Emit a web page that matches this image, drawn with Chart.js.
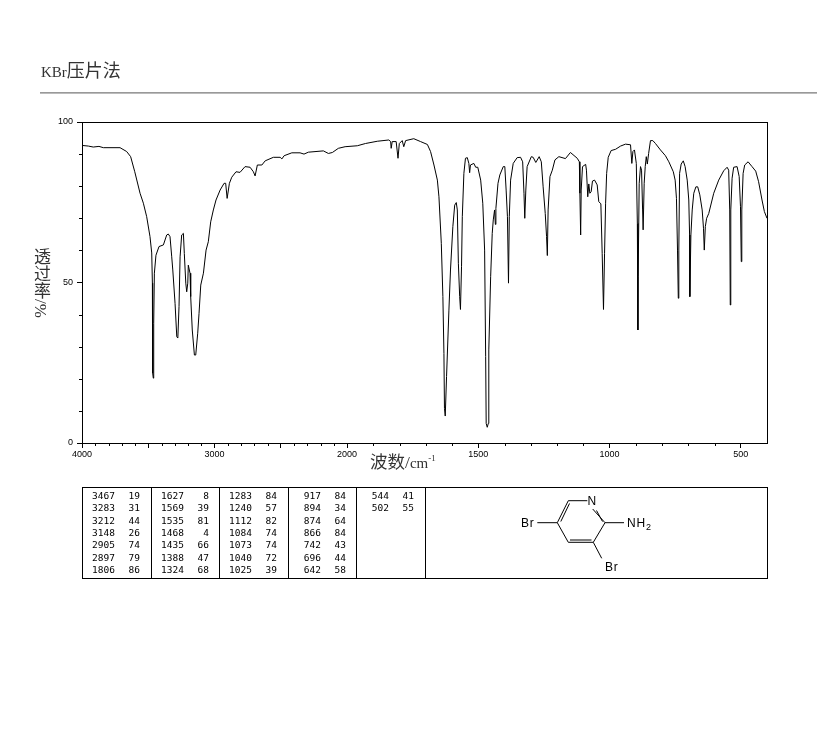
<!DOCTYPE html>
<html>
<head>
<meta charset="utf-8">
<script src="https://cdn.jsdelivr.net/npm/chart.js@4/dist/chart.umd.min.js"></script>
<style>
    html, body { margin: 0; padding: 0; background: #fff; }
    #page { position: relative; width: 822px; height: 737px; overflow: hidden; color: #000; }
    #page > * { position: absolute; }
    .cjk { font-family: "Liberation Serif", "Noto Sans CJK SC", serif; color: #333; white-space: nowrap; }
    #title { left: 41px; top: 59px; font-size: 18px; line-height: 24px; }
    #title b, #xtitle b { font-weight: normal; font-size: 15px; }
    #rule { left: 40px; top: 92px; width: 777px; height: 1px; background: #999; border-bottom: 1px solid #bbb; }
    #ytitle { left: 29px; top: 248px; font-size: 17px; line-height: 22px; writing-mode: vertical-rl; }
    #xtitle { left: 370px; top: 450px; font-size: 17.5px; line-height: 24px; }
    #xtitle sup { font-size: 9px; line-height: 0; }
    #peaks { left: 82px; top: 487px; width: 684px; height: 90px; border: 1px solid #000; }
    .col { position: absolute; top: 0; bottom: 0; border-right: 1px solid #000; }
    .num { position: absolute; font: 9.5px/12px "DejaVu Sans Mono", monospace; text-align: right; }
    svg { left: 0; top: 0; }
    svg text { font-family: "Liberation Sans", sans-serif; font-size: 12px; letter-spacing: 0.8px; }
</style>
</head>
<body>
<div id="page">
    <canvas id="chart" width="822" height="500" style="left:0;top:0;width:822px;height:500px"></canvas>
    <div id="title" class="cjk"><b>KBr</b>压片法</div>
    <div id="rule"></div>
    <div id="ytitle" class="cjk">透过率/%</div>
    <div id="xtitle" class="cjk">波数/<b>cm</b><sup>-1</sup></div>
    <div id="peaks"></div>
    <svg width="822" height="737" viewBox="0 0 822 737">
        <g stroke="#000" stroke-width="1" fill="none">
            <path d="M587.3 500.7H568.3L557.3 522.7L568.3 542.3H593.3L605 522.7L592.7 509"/>
            <path d="M569.5 503.5L560.8 521.5M570 540H591.5M596.5 510.5L602.5 521.5"/>
            <path d="M537.3 522.7H557.3M605 522.7H624M593.3 542.3L601.7 558.3"/>
        </g>
        <text x="587.5" y="505">N</text>
        <text x="521" y="527">Br</text>
        <text x="627" y="527">NH<tspan font-size="9" dy="3">2</tspan></text>
        <text x="605" y="571">Br</text>
    </svg>
</div>
<script>
var spectrumWave = [
    4000, 3952, 3915, 3872, 3839, 3713, 3663, 3633, 3602, 3562, 3537, 3512, 3487, 3474, 3469, 3467, 3462, 3459, 3454, 3442,
    3419, 3386, 3361, 3349, 3336, 3323, 3315, 3298, 3285, 3277, 3268, 3260, 3248, 3235, 3228, 3217, 3210, 3202, 3198, 3185,
    3180, 3168, 3152, 3142, 3127, 3117, 3104, 3084, 3064, 3047, 3029, 3009, 2989, 2958, 2928, 2916, 2905, 2888, 2870, 2838,
    2808, 2770, 2732, 2707, 2694, 2677, 2643, 2618, 2556, 2505, 2492, 2475, 2417, 2355, 2325, 2292, 2179, 2141, 2111, 2066,
    2015, 1961, 1930, 1885, 1841, 1834, 1832, 1828, 1813, 1806, 1801, 1790, 1784, 1777, 1746, 1720, 1694, 1682, 1669, 1656,
    1650, 1641, 1635, 1631, 1629, 1626, 1621, 1612, 1606, 1597, 1590, 1584, 1580, 1576, 1571, 1568, 1564, 1561, 1555, 1549,
    1542, 1536, 1533, 1530, 1517, 1510, 1502, 1491, 1483, 1476, 1472, 1470, 1466, 1462, 1460, 1453, 1447, 1443, 1438, 1435,
    1433, 1425, 1418, 1405, 1399, 1394, 1389, 1385, 1382, 1377, 1367, 1352, 1339, 1331, 1326, 1323, 1319, 1314, 1298, 1291,
    1281, 1268, 1260, 1253, 1245, 1240, 1237, 1234, 1227, 1218, 1208, 1193, 1168, 1149, 1123, 1115, 1113, 1110, 1108, 1103,
    1091, 1088, 1083, 1079, 1075, 1070, 1065, 1057, 1047, 1041, 1033, 1028, 1023, 1019, 1015, 1011, 1005, 994, 977, 958,
    939, 920, 915, 911, 905, 898, 894, 892, 891, 887, 882, 878, 874, 872, 868, 864, 860, 856, 851, 844,
    835, 825, 806, 787, 774, 757, 750, 745, 741, 738, 736, 733, 727, 719, 712, 704, 698, 695, 694, 690,
    685, 679, 671, 664, 656, 647, 642, 639, 635, 630, 622, 603, 584, 565, 552, 546, 542, 540, 538, 533,
    527, 514, 506, 501, 498, 496, 491, 485, 472, 457, 443, 432, 419, 410, 400
];
var spectrumT = [
    92.7, 92.5, 92.2, 92.4, 92.0, 92.0, 90.8, 89.2, 84.5, 77.8, 74.7, 70.5, 64.3, 59.2, 49.8, 21.8, 20.2, 37.3, 52.9, 58.5,
    61.2, 61.7, 64.8, 65.1, 64.3, 58.0, 53.9, 43.5, 33.1, 32.7, 42.5, 58.0, 64.8, 65.3, 59.0, 49.8, 47.1, 49.8, 55.4, 52.9,
    45.6, 35.2, 27.4, 27.4, 34.2, 40.4, 49.2, 52.9, 60.1, 62.7, 68.9, 72.6, 75.7, 78.8, 80.9, 80.9, 76.2, 80.9, 82.8, 84.5,
    84.3, 86.1, 85.9, 84.5, 83.2, 86.6, 86.6, 87.9, 89.0, 89.0, 88.5, 89.5, 90.4, 90.4, 90.0, 90.6, 91.0, 90.2, 90.5, 91.8,
    92.3, 92.6, 93.3, 94.0, 94.4, 93.9, 91.8, 93.9, 93.9, 88.7, 93.3, 94.2, 92.3, 94.2, 94.8, 93.9, 93.0, 90.8, 86.6, 81.9,
    76.7, 62.2, 45.6, 27.9, 10.8, 8.4, 20.7, 41.4, 53.9, 67.4, 74.1, 74.9, 72.6, 56.0, 45.6, 41.6, 54.9, 70.5, 84.0, 88.7,
    88.9, 87.1, 84.2, 86.6, 87.1, 85.9, 85.9, 81.9, 74.7, 60.1, 26.9, 6.1, 4.9, 6.1, 29.0, 51.8, 65.3, 69.5, 72.6, 68.1,
    73.1, 80.9, 83.5, 86.1, 86.1, 78.8, 70.5, 49.8, 70.5, 81.9, 87.1, 88.9, 89.0, 87.6, 77.8, 70.0, 78.8, 86.1, 89.2, 89.0,
    87.4, 89.2, 87.6, 79.8, 71.5, 64.3, 58.4, 72.6, 83.0, 85.0, 88.2, 89.2, 88.6, 90.5, 88.7, 87.6, 77.8, 64.8, 78.8, 86.1,
    86.8, 85.0, 76.7, 80.7, 77.8, 78.3, 81.6, 81.9, 80.4, 75.2, 74.5, 59.1, 41.6, 59.1, 74.7, 84.0, 89.0, 91.1, 91.5, 92.5,
    93.1, 92.9, 87.1, 90.8, 91.3, 87.1, 68.4, 35.2, 51.8, 80.9, 86.1, 85.0, 72.6, 66.4, 80.9, 86.1, 89.2, 86.9, 90.2, 94.2,
    94.2, 93.3, 91.3, 89.5, 87.6, 84.5, 81.9, 76.2, 60.1, 45.1, 60.1, 84.0, 86.9, 87.9, 86.1, 81.9, 75.7, 64.8, 45.6, 64.8,
    72.6, 77.8, 79.8, 79.8, 77.3, 72.6, 66.9, 60.1, 67.4, 70.0, 71.5, 77.8, 81.9, 84.8, 85.9, 85.0, 72.6, 43.0, 72.6, 82.5,
    85.9, 86.1, 83.0, 73.6, 56.5, 72.6, 84.0, 86.6, 87.6, 86.1, 84.7, 81.4, 75.7, 72.1, 70.0
];
var xMajorWaves = [4000, 3500, 3000, 2500, 2000, 1500, 1000, 500];
var xLabeledWaves = [4000, 3000, 2000, 1500, 1000, 500];
var yMajorTicks = [0, 50, 100];
var yMinorTicks = [10, 20, 30, 40, 60, 70, 80, 90];
var peakWave = [
    3467, 3283, 3212, 3148, 2905, 2897, 1806,
    1627, 1569, 1535, 1468, 1435, 1388, 1324,
    1283, 1240, 1112, 1084, 1073, 1040, 1025,
    917, 894, 874, 866, 742, 696, 642,
    544, 502
];
var peakT = [
    19, 31, 44, 26, 74, 79, 86,
    8, 39, 81, 4, 66, 47, 68,
    84, 57, 82, 74, 74, 72, 39,
    84, 34, 64, 84, 43, 44, 58,
    41, 55
];
var columnLefts = [0, 69, 137, 206, 274, 343];

// the axis runs twice as wide below 2000 cm-1
function wavePos(w) {
    return w >= 2000 ? 4000 - w : 2000 + (2000 - w) * 1.98;
}

var xMinor = [];
for (var w = 3900; w > 400; w -= 100) {
    if (xMajorWaves.indexOf(w) < 0) xMinor.push(w);
}

var points = [];
for (var i = 0; i < spectrumWave.length; i++) {
    points.push({ x: wavePos(spectrumWave[i]), y: spectrumT[i] });
}

var frameAndMinorTicks = {
    id: 'frameAndMinorTicks',
    afterDraw: function (chart) {
        var ctx = chart.ctx, a = chart.chartArea;
        ctx.save();
        ctx.strokeStyle = '#000';
        ctx.lineWidth = 1;
        ctx.strokeRect(a.left + 0.5, a.top + 0.5, a.right - a.left, a.bottom - a.top);
        ctx.beginPath();
        xMinor.forEach(function (w) {
            var px = Math.round(chart.scales.x.getPixelForValue(wavePos(w))) + 0.5;
            ctx.moveTo(px, a.bottom);
            ctx.lineTo(px, a.bottom + 3);
        });
        yMinorTicks.forEach(function (v) {
            var py = Math.round(chart.scales.y.getPixelForValue(v)) + 0.5;
            ctx.moveTo(a.left, py);
            ctx.lineTo(a.left - 3, py);
        });
        ctx.stroke();
        ctx.restore();
    }
};

new Chart(document.getElementById('chart').getContext('2d'), {
    type: 'line',
    data: {
        datasets: [{
            data: points,
            borderColor: '#000',
            borderWidth: 1,
            pointRadius: 0,
            tension: 0
        }]
    },
    options: {
        responsive: false,
        animation: false,
        layout: { padding: { left: 42, top: 122, right: 55, bottom: 27 } },
        plugins: { legend: { display: false }, tooltip: { enabled: false } },
        scales: {
            x: {
                type: 'linear',
                min: 0,
                max: wavePos(400),
                afterBuildTicks: function (scale) {
                    scale.ticks = xMajorWaves.map(function (w) { return { value: wavePos(w), wave: w }; });
                },
                afterFit: function (scale) { scale.height = 30; },
                grid: { drawOnChartArea: false, tickLength: 5, color: '#000' },
                border: { color: '#000' },
                ticks: {
                    autoSkip: false,
                    maxRotation: 0,
                    padding: 1,
                    color: '#000',
                    font: { family: '"Liberation Sans", sans-serif', size: 9 },
                    callback: function (value, index) {
                        var w = xMajorWaves[index];
                        return xLabeledWaves.indexOf(w) >= 0 ? String(w) : '';
                    }
                }
            },
            y: {
                min: 0,
                max: 100,
                afterBuildTicks: function (scale) {
                    scale.ticks = yMajorTicks.map(function (v) { return { value: v }; });
                },
                afterFit: function (scale) { scale.width = 40; },
                grid: { drawOnChartArea: false, tickLength: 5, color: '#000' },
                border: { color: '#000' },
                ticks: {
                    padding: 4,
                    color: '#000',
                    font: { family: '"Liberation Sans", sans-serif', size: 9 }
                }
            }
        }
    },
    plugins: [frameAndMinorTicks]
});

// peak table, seven rows per column
var box = document.getElementById('peaks');
columnLefts.forEach(function (left, c) {
    if (c == 0) return;
    var col = document.createElement('div');
    col.className = 'col';
    col.style.left = (left - 1) + 'px';
    box.appendChild(col);
});
peakWave.forEach(function (w, i) {
    var c = Math.floor(i / 7), r = i % 7;
    [[w, 33], [peakT[i], 58]].forEach(function (cell) {
        var el = document.createElement('div');
        el.className = 'num';
        el.textContent = cell[0];
        el.style.width = '30px';
        el.style.left = (columnLefts[c] + cell[1] - 31) + 'px';
        el.style.top = (2 + r * 12.3) + 'px';
        box.appendChild(el);
    });
});
</script>
</body>
</html>
